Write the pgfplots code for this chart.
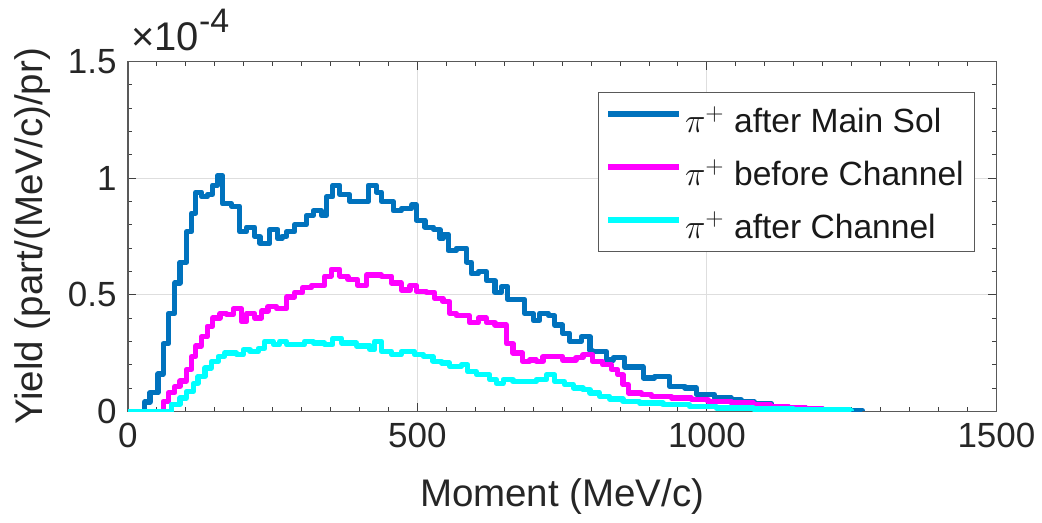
\documentclass[border=0pt]{standalone}
\usepackage{pgfplots}
\pgfplotsset{compat=1.18}
\usepackage{fontspec}
\setmainfont{Liberation Sans}
\definecolor{mblue}{RGB}{0,114,189}
\definecolor{mmag}{RGB}{255,0,255}
\definecolor{mcyan}{RGB}{0,255,255}
\definecolor{axgray}{RGB}{38,38,38}
\begin{document}
\begin{tikzpicture}
\begin{axis}[
  name=ax,
  scale only axis,
  width=434.5pt, height=175pt,
  xmin=0, xmax=1500, ymin=0, ymax=1.5,
  xtick={0,500,1000,1500}, ytick={0,0.5,1,1.5},
  minor x tick num=9, minor y tick num=4,
  tick align=inside,
  major tick length=4pt, minor tick length=2pt,
  xtick pos=both, ytick pos=both,
  grid=major,
  major grid style={draw=black!13, line width=0.5pt},
  axis line style={draw=black!65, line width=0.6pt},
  every tick/.style={draw=black!75, line width=0.5pt},
  /pgf/number format/assume math mode=true,
  /pgf/number format/1000 sep={},
  ticklabel style={font=\fontsize{17.5}{21}\selectfont, text=axgray},
  xticklabel style={yshift=-2.2pt},
  yticklabel style={xshift=-2.2pt},
  xlabel={Moment (MeV/c)},
  ylabel={Yield (part/(MeV/c)/pr)},
  label style={font=\fontsize{19.25}{23}\selectfont, text=axgray},
  xlabel style={at={(axis description cs:0.5,-0.272)}, anchor=base},
  ylabel style={at={(axis description cs:-0.0983,0.5)}, anchor=base, rotate=0},
  legend cell align=left,
  legend image code/.code={\draw[#1, line width=2.6pt, line cap=butt] (0pt,2.55pt) -- (35.5pt,2.55pt);},
  legend style={at={(0.975,0.913)}, anchor=north east, draw=black!65, line width=0.6pt, fill=white,
    inner xsep=3.6pt, inner ysep=0pt,
    font=\fontsize{16.8}{21}\selectfont,
    nodes={inner xsep=1.6pt, inner ysep=4.85pt, text height=15.15pt, text depth=1.65pt, text=black!90}},
  every axis plot/.append style={const plot mark left, line width=2.6pt, line join=round, no markers},
]
\addplot[mblue] coordinates {
(0,0) (26,0) (29,0.04) (38,0.08) (52,0.16) (61,0.29) (70,0.42) (81,0.55) (90,0.64)
(101,0.77) (110,0.85) (117,0.94) (127,0.92) (137,0.93) (146,0.97) (155,1.01) (163,0.89)
(179,0.88) (193,0.77) (205,0.79) (219,0.75) (228,0.72) (245,0.78) (259,0.74) (266,0.75)
(274,0.77) (288,0.80) (308,0.84) (320,0.86) (334,0.84) (343,0.92) (354,0.97) (366,0.93)
(383,0.90) (415,0.97) (429,0.94) (438,0.90) (458,0.86) (472,0.87) (490,0.885) (498,0.82)
(513,0.79) (528,0.78) (539,0.74) (544,0.76) (553,0.69) (567,0.70) (585,0.64) (593,0.59)
(605,0.60) (619,0.56) (634,0.51) (645,0.535) (656,0.48) (685,0.42) (700,0.39) (711,0.42)
(726,0.41) (737,0.37) (751,0.335) (763,0.30) (783,0.32) (798,0.26) (803,0.257) (826,0.22)
(838,0.23) (858,0.19) (890,0.143) (910,0.15) (936,0.107) (962,0.10) (982,0.072)
(1013,0.057) (1042,0.05) (1059,0.04) (1082,0.033) (1111,0.022) (1140,0.015) (1170,0.01)
(1200,0.006) (1240,0.004) (1265,0.004) (1268,0)
};
\addlegendentry{$\pi^+$ after Main Sol}
\addplot[mmag] coordinates {
(0,0) (58,0) (61,0.043) (70,0.08) (81,0.107) (90,0.13) (101,0.18) (110,0.235) (117,0.28)
(127,0.32) (137,0.365) (146,0.40) (159,0.42) (170,0.415) (182,0.44) (196,0.385) (205,0.42)
(219,0.40) (231,0.43) (242,0.45) (257,0.44) (274,0.49) (288,0.51) (302,0.53) (317,0.54)
(340,0.58) (351,0.61) (366,0.58) (380,0.565) (397,0.54) (412,0.585) (438,0.58) (455,0.55)
(472,0.52) (487,0.54) (498,0.515) (515,0.51) (530,0.485) (544,0.47) (556,0.42) (567,0.41)
(590,0.38) (605,0.40) (619,0.38) (634,0.37) (654,0.29) (665,0.25) (682,0.214) (694,0.22)
(705,0.214) (717,0.235) (751,0.22) (774,0.23) (786,0.243) (803,0.214) (820,0.20)
(835,0.18) (846,0.157) (855,0.114) (864,0.079) (887,0.072) (904,0.064) (939,0.057)
(973,0.05) (1002,0.043) (1042,0.036) (1080,0.03) (1110,0.022) (1140,0.015) (1170,0.01)
(1200,0.005) (1230,0.002) (1232,0)
};
\addlegendentry{$\pi^+$ before Channel}
\addplot[mcyan] coordinates {
(0,0) (70,0) (75,0.03) (90,0.057) (101,0.086) (113,0.12) (121,0.15) (133,0.186) (144,0.214)
(156,0.236) (167,0.25) (188,0.243) (199,0.264) (211,0.257) (225,0.27) (236,0.30) (251,0.286)
(262,0.30) (274,0.286) (305,0.30) (320,0.293) (340,0.286) (354,0.314) (369,0.293) (395,0.28)
(418,0.264) (426,0.30) (438,0.257) (455,0.243) (472,0.257) (495,0.243) (510,0.236)
(527,0.215) (542,0.207) (556,0.193) (576,0.20) (587,0.17) (602,0.157) (625,0.136) (636,0.12)
(648,0.136) (665,0.128) (705,0.136) (723,0.157) (737,0.128) (754,0.114) (769,0.10)
(786,0.093) (798,0.079) (815,0.064) (832,0.053) (855,0.043) (884,0.036) (924,0.029)
(970,0.021) (1016,0.014) (1080,0.01) (1150,0.006) (1247,0.004) (1249,0)
};
\addlegendentry{$\pi^+$ after Channel}
\end{axis}
\node[anchor=base west, inner sep=0pt, font=\fontsize{20}{24}\selectfont, text=axgray]
  at ([xshift=1.5pt, yshift=5.5pt]ax.north west) {×10\raisebox{9pt}{\fontsize{17}{17}\selectfont -4}};
\path (ax.south west) ++(-64pt,-55.7pt) coordinate (bbA);
\path (ax.north east) ++(22.5pt,30.8pt) coordinate (bbB);
\path (bbA) rectangle (bbB);
\end{tikzpicture}
\end{document}
